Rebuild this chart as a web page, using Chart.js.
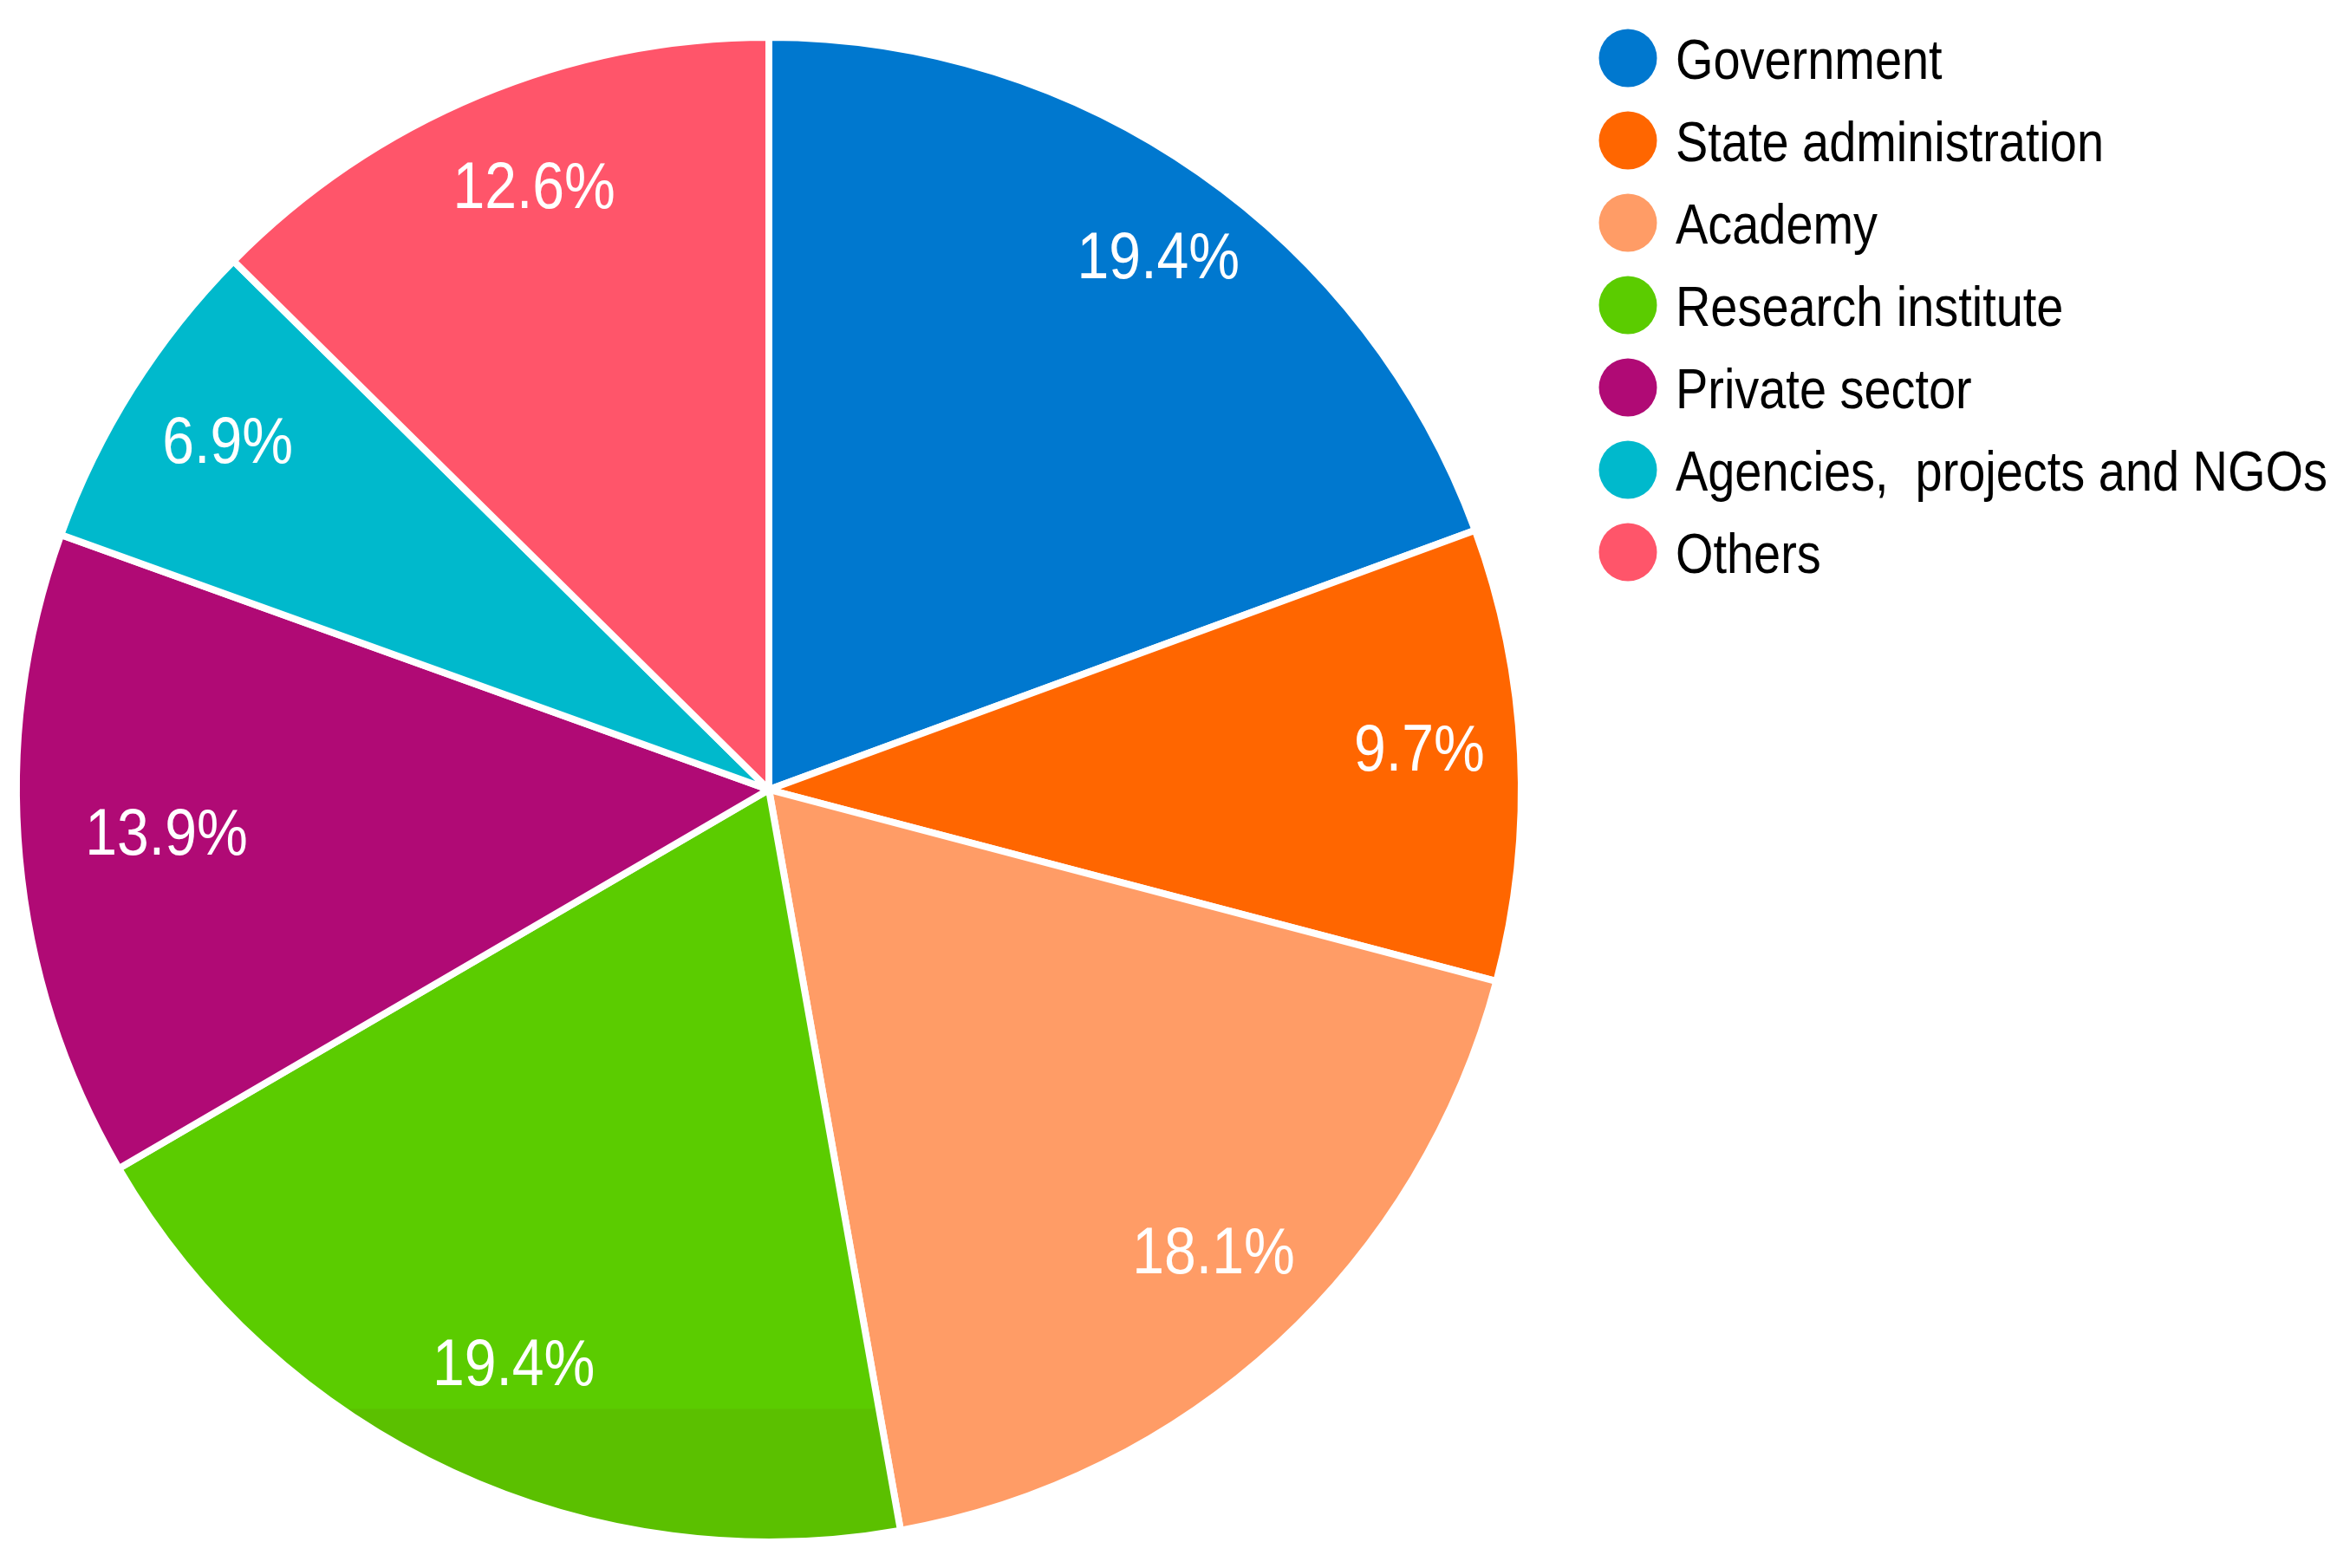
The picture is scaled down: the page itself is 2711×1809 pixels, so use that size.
<!DOCTYPE html>
<html lang="en">
<head>
    <meta charset="UTF-8">
    <title>Pie chart</title>
    <script src="https://cdn.jsdelivr.net/npm/chart.js"></script>
    <style>
        body { margin: 0; background: #fff; }
        .wrap { width: 2711px; height: 1809px; position: relative; }
    </style>
</head>
<body>

<div class="wrap">
    <canvas id="grafico"></canvas>
</div>

<script>
    const categorias = ['Government', 'State administration', 'Academy', 'Research institute',
        'Private sector', 'Agencies,  projects and NGOs', 'Others'];
    const percentuais = [19.4, 9.7, 18.1, 19.4, 13.9, 6.9, 12.6];
    const cores = ['#0078cf', '#ff6600', '#ff9c66', '#5bcc00', '#b00a75', '#00b9cc', '#ff556a'];

    // posicao dos rotulos: fracao do raio e pequeno desvio angular (graus)
    const raioRotulo = [0.874, 0.866, 0.856, 0.839, 0.803, 0.853, 0.856];
    const desvioRotulo = [1.4, -0.6, -1.0, -1.0, 0.8, 0.3, 1.3];

    // rotulos em branco dentro de cada fatia
    const rotulosFatias = {
        id: 'rotulosFatias',
        afterDatasetsDraw(chart) {
            const ctx = chart.ctx;
            const meta = chart.getDatasetMeta(0);
            ctx.save();
            ctx.fillStyle = '#ffffff';
            ctx.font = '76px "Liberation Sans", Arial, sans-serif';
            ctx.textAlign = 'center';
            ctx.textBaseline = 'middle';
            meta.data.forEach((arc, i) => {
                const p = arc.getProps(['x', 'y', 'startAngle', 'endAngle', 'outerRadius'], true);
                const meio = (p.startAngle + p.endAngle) / 2 + desvioRotulo[i] * Math.PI / 180;
                const r = p.outerRadius * raioRotulo[i];
                ctx.save();
                ctx.translate(p.x + Math.cos(meio) * r, p.y + Math.sin(meio) * r);
                ctx.scale(0.87, 1);
                ctx.fillText(percentuais[i].toFixed(1) + '%', 0, 0);
                ctx.restore();
            });
            ctx.restore();
        }
    };

    // legenda desenhada a mao (texto um pouco estreito)
    const legendaEstreita = {
        id: 'legendaEstreita',
        afterDraw(chart) {
            const ctx = chart.ctx;
            const x0 = 1878, y0 = 67, passo = 95;
            ctx.save();
            chart.data.labels.forEach((txt, i) => {
                const cy = y0 + i * passo;
                ctx.fillStyle = cores[i];
                ctx.beginPath();
                ctx.arc(x0, cy, 33.5, 0, Math.PI * 2);
                ctx.fill();
                ctx.save();
                ctx.translate(1933, cy + 24);
                ctx.scale(0.86, 1);
                ctx.fillStyle = '#000000';
                ctx.font = '65px "Liberation Sans", Arial, sans-serif';
                ctx.textAlign = 'left';
                ctx.textBaseline = 'alphabetic';
                ctx.fillText(txt, 0, 0);
                ctx.restore();
            });
            ctx.restore();
        }
    };

    // a fatia verde fica um pouco mais escura perto da base
    function corFatia(c) {
        const i = c.dataIndex;
        if (i !== 3) return cores[i];
        const g = c.chart.ctx.createLinearGradient(0, 0, 0, 1809);
        g.addColorStop(0, '#5bcc00');
        g.addColorStop(1625 / 1809, '#5bcc00');
        g.addColorStop(1626 / 1809, '#5bc000');
        g.addColorStop(1, '#5bc000');
        return g;
    }

    new Chart(document.getElementById('grafico'), {
        type: 'pie',
        data: {
            labels: categorias,
            datasets: [{
                data: percentuais,
                backgroundColor: corFatia,
                borderColor: '#ffffff',
                borderWidth: 8
            }]
        },
        options: {
            responsive: true,
            maintainAspectRatio: false,
            devicePixelRatio: 1,
            animation: false,
            radius: 868,
            layout: { padding: { left: 7, top: 31, right: 944, bottom: 18 } },
            plugins: {
                legend: { display: false },
                tooltip: { enabled: false }
            }
        },
        plugins: [rotulosFatias, legendaEstreita]
    });
</script>

</body>
</html>
